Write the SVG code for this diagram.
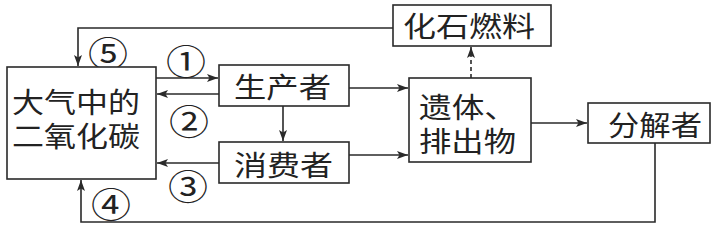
<svg xmlns="http://www.w3.org/2000/svg" width="721" height="227" viewBox="0 0 721 227">
<style>
.box{fill:#fff;stroke:#2a2a2a;stroke-width:1.6}
.ln{fill:none;stroke:#2a2a2a;stroke-width:1.6}
.dash{stroke-dasharray:4 3}
.t{font-family:"Noto Sans CJK SC","Noto Sans CJK JP",sans-serif;font-size:28px;fill:#222;dominant-baseline:central}
.n{font-family:"Noto Sans CJK SC","DejaVu Sans",sans-serif;font-size:35px;fill:#222;dominant-baseline:central;text-anchor:middle}
</style>
<defs>
<marker id="ah" markerUnits="userSpaceOnUse" markerWidth="12" markerHeight="9" refX="11" refY="4.5" orient="auto">
<path d="M0,0.5 L11,4.5 L0,8.5 L2.5,4.5 z" fill="#2a2a2a"/>
</marker>
</defs>
<rect width="721" height="227" fill="#fff"/>
<g id="connectors">
<polyline class="ln" points="393,28 78,28 78,66" marker-end="url(#ah)"/>
<line class="ln" x1="156" y1="78" x2="218" y2="78" marker-end="url(#ah)"/>
<line class="ln" x1="219" y1="94" x2="157" y2="94" marker-end="url(#ah)"/>
<line class="ln" x1="219" y1="163" x2="157" y2="163" marker-end="url(#ah)"/>
<polyline class="ln" points="655,143 655,222 81,222 81,180" marker-end="url(#ah)"/>
<line class="ln" x1="283" y1="106" x2="283" y2="141" marker-end="url(#ah)"/>
<line class="ln" x1="349" y1="88" x2="408" y2="88" marker-end="url(#ah)"/>
<line class="ln" x1="349" y1="155" x2="408" y2="155" marker-end="url(#ah)"/>
<line class="ln" x1="531" y1="123" x2="587" y2="123" marker-end="url(#ah)"/>
<line class="ln dash" x1="471" y1="78" x2="471" y2="47" marker-end="url(#ah)"/>
<text class="n" x="108" y="51" textLength="40" lengthAdjust="spacingAndGlyphs">⑤</text>
<text class="n" x="186" y="59" textLength="40" lengthAdjust="spacingAndGlyphs">①</text>
<text class="n" x="189" y="119" textLength="40" lengthAdjust="spacingAndGlyphs">②</text>
<text class="n" x="188" y="184" textLength="40" lengthAdjust="spacingAndGlyphs">③</text>
<text class="n" x="111" y="202" textLength="40" lengthAdjust="spacingAndGlyphs">④</text>
</g>
<g id="co2">
<rect class="box" x="7" y="67" width="149" height="112"/>
<text class="t" x="12" y="100.5" textLength="128" lengthAdjust="spacingAndGlyphs">大气中的</text>
<text class="t" x="12" y="134.5" textLength="128" lengthAdjust="spacingAndGlyphs">二氧化碳</text>
</g>
<g id="producer">
<rect class="box" x="219" y="65" width="130" height="41"/>
<text class="t" x="234" y="86" textLength="97" lengthAdjust="spacingAndGlyphs">生产者</text>
</g>
<g id="consumer">
<rect class="box" x="219" y="142" width="130" height="41"/>
<text class="t" x="234" y="163.5" textLength="99" lengthAdjust="spacingAndGlyphs">消费者</text>
</g>
<g id="fossil">
<rect class="box" x="393" y="5" width="158" height="41"/>
<text class="t" x="403" y="25" textLength="132" lengthAdjust="spacingAndGlyphs">化石燃料</text>
</g>
<g id="remains">
<rect class="box" x="409" y="78" width="122" height="84"/>
<text class="t" x="419" y="106" textLength="98" lengthAdjust="spacingAndGlyphs">遗体、</text>
<text class="t" x="419" y="140" textLength="97" lengthAdjust="spacingAndGlyphs">排出物</text>
</g>
<g id="decomposer">
<rect class="box" x="588" y="103" width="122" height="40"/>
<text class="t" x="608" y="123.5" textLength="94" lengthAdjust="spacingAndGlyphs">分解者</text>
</g>
</svg>
